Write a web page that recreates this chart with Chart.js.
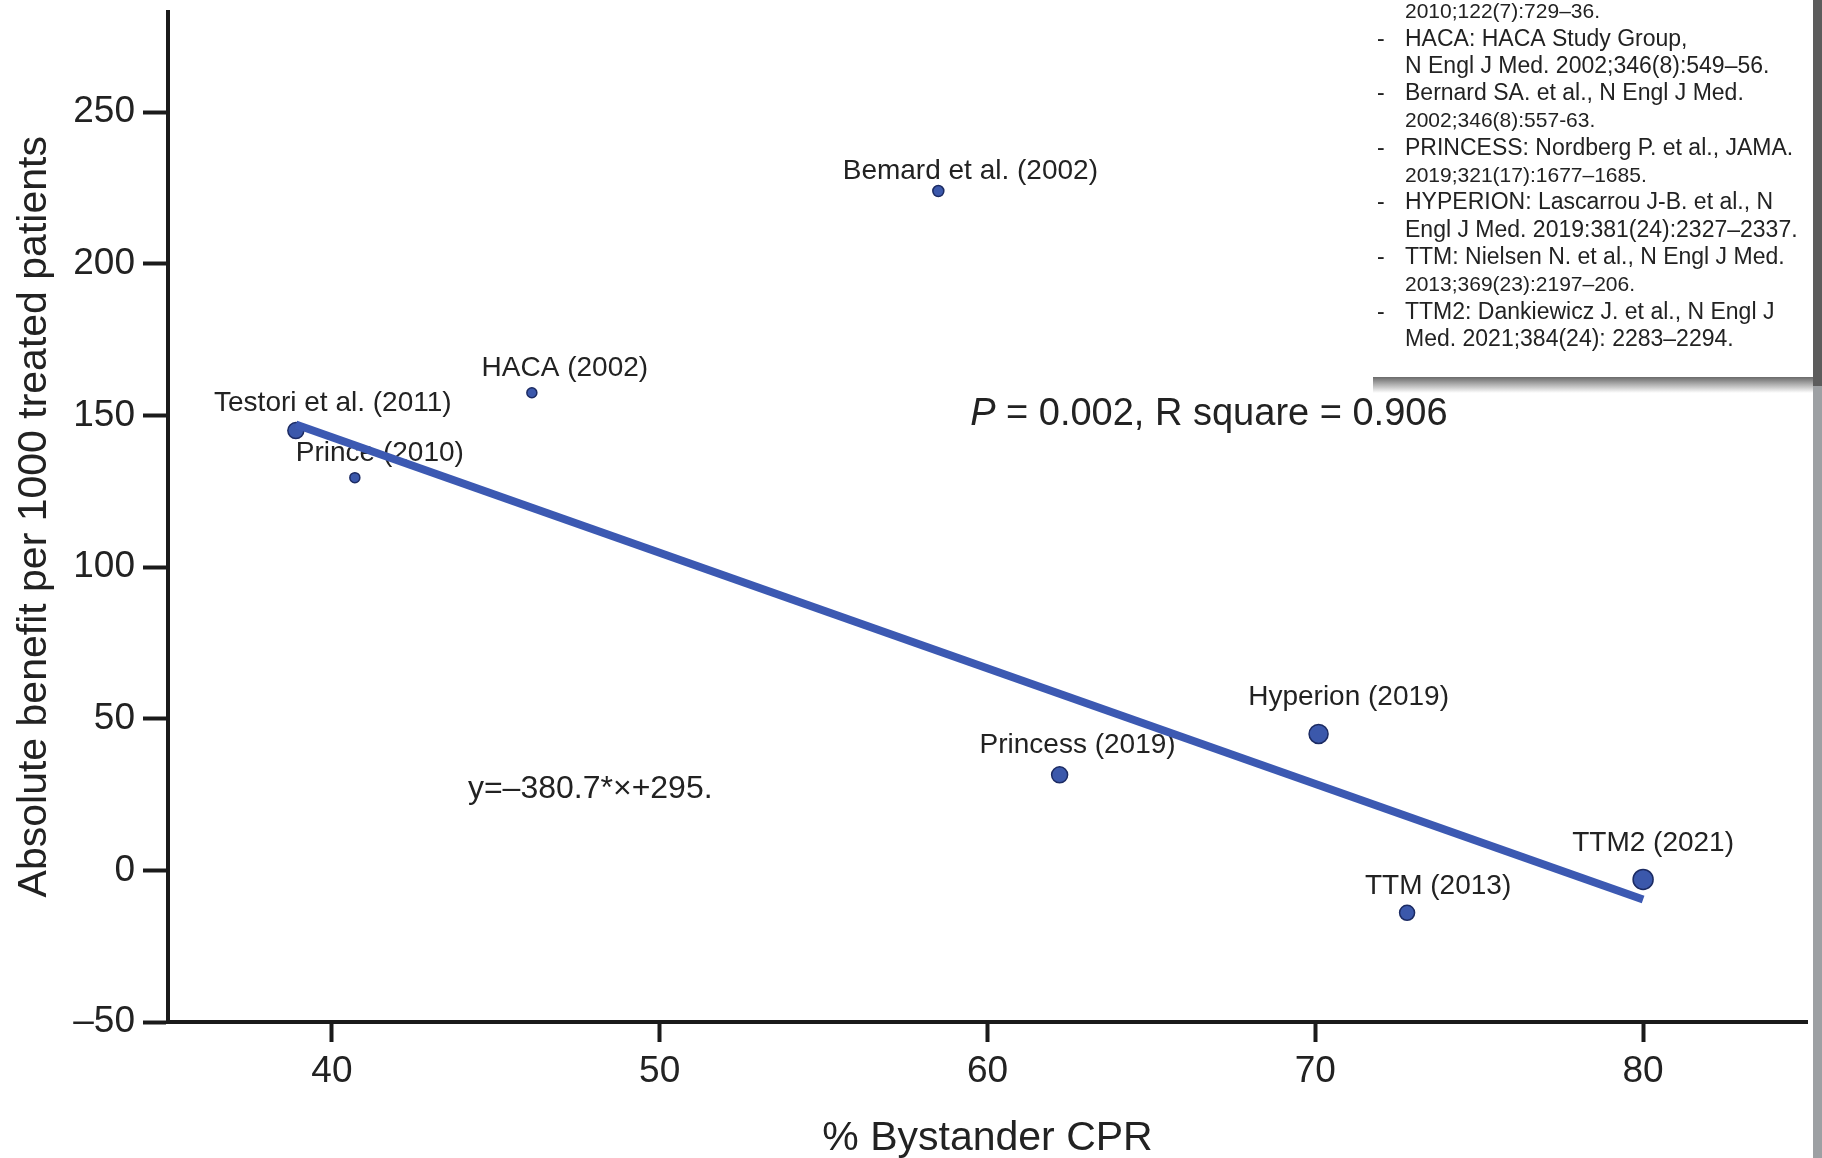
<!DOCTYPE html>
<html>
<head>
<meta charset="utf-8">
<script src="https://cdn.jsdelivr.net/npm/chart.js@4.4.1/dist/chart.umd.min.js"></script>
<style>
  html, body { margin: 0; padding: 0; background: #fff; overflow: hidden; }
  canvas { display: block; }
</style>
</head>
<body>
<canvas id="cprChart" width="1822" height="1158"></canvas>
<script>
// values
var studyNames = ["Testori et al. (2011)", "Prince (2010)", "HACA (2002)", "Bemard et al. (2002)",
  "Princess (2019)", "Hyperion (2019)", "TTM (2013)", "TTM2 (2021)"];
var bystanderCpr = [38.9, 40.7, 46.1, 58.5, 62.2, 70.1, 72.8, 80.0];
var absoluteBenefit = [145, 129.5, 157.5, 224, 31.5, 45, -14, -3];
var studyWeights = [8, 5, 5, 5.5, 8, 9.5, 7.5, 10];
var fitLineX = [38.9, 80];
var fitLineY = [147, -9.6];
var xTicks = [40, 50, 60, 70, 80];
var yTicks = [-50, 0, 50, 100, 150, 200, 250];

var referenceLines = [
  ["", "2010;122(7):729\u201336."],
  ["-", "HACA: HACA Study Group,"],
  ["", "N Engl J Med. 2002;346(8):549\u201356."],
  ["-", "Bernard SA. et al., N Engl J Med."],
  ["", "2002;346(8):557-63."],
  ["-", "PRINCESS: Nordberg P. et al., JAMA."],
  ["", "2019;321(17):1677\u20131685."],
  ["-", "HYPERION: Lascarrou J-B. et al., N"],
  ["", "Engl J Med. 2019:381(24):2327\u20132337."],
  ["-", "TTM: Nielsen N. et al., N Engl J Med."],
  ["", "2013;369(23):2197\u2013206."],
  ["-", "TTM2: Dankiewicz J. et al., N Engl J"],
  ["", "Med. 2021;384(24): 2283\u20132294."]
];

// label placement relative to each dot (px)
var labelOffsets = [[37, -27], [25, -24], [33, -24], [32, -20], [18, -30], [30, -37], [31, -27], [10, -36]];

var FONT = '"Liberation Sans", Arial, Helvetica, sans-serif';
var ink = "#222222";
var axisInk = "#1a1a1a";

var textPlugin = {
  id: "studyText",
  beforeDatasetsDraw: function (chart) {
    var ctx = chart.ctx;
    var xs = chart.scales.x;
    var ys = chart.scales.y;
    ctx.save();
    ctx.fillStyle = ink;
    ctx.textBaseline = "middle";
    ctx.textAlign = "center";
    ctx.font = "28px " + FONT;
    studyNames.forEach(function (name, i) {
      var px = xs.getPixelForValue(bystanderCpr[i]) + labelOffsets[i][0];
      var py = ys.getPixelForValue(absoluteBenefit[i]) + labelOffsets[i][1];
      ctx.fillText(name, px, py);
    });

    ctx.textAlign = "left";
    ctx.font = "32px " + FONT;
    ctx.fillText("y=\u2013380.7*\u00d7+295.", xs.getPixelForValue(44.15), ys.getPixelForValue(26.9));

    var x0 = xs.getPixelForValue(59.47);
    var y0 = ys.getPixelForValue(150.4);
    ctx.font = "italic 38px " + FONT;
    ctx.fillText("P", x0, y0);
    var w = ctx.measureText("P").width;
    ctx.font = "38px " + FONT;
    ctx.fillText(" = 0.002, R square = 0.906", x0 + w, y0);
    ctx.restore();
  },
  afterDraw: function (chart) {
    var ctx = chart.ctx;
    ctx.save();
    // right edge strips
    ctx.fillStyle = "#5c5c5c";
    ctx.fillRect(1813, 0, 9, 386);
    ctx.fillStyle = "#9da0a3";
    ctx.fillRect(1813, 386, 9, 772);

    // reference box with shadow
    var grad = ctx.createLinearGradient(0, 377, 0, 393);
    grad.addColorStop(0, "rgba(80,80,80,0.85)");
    grad.addColorStop(1, "rgba(80,80,80,0)");
    ctx.fillStyle = grad;
    ctx.fillRect(1373, 377, 440, 16);
    ctx.fillStyle = "#ffffff";
    ctx.fillRect(1373, 0, 440, 377);

    ctx.fillStyle = ink;
    ctx.textBaseline = "middle";
    ctx.textAlign = "left";
    referenceLines.forEach(function (line, i) {
      var y = 12 + i * 27.3;
      ctx.font = "23px " + FONT;
      if (line[0]) ctx.fillText(line[0], 1377, y);
      var startsWithDigit = /^[0-9]/.test(line[1]);
      ctx.font = (startsWithDigit ? "21px " : "23px ") + FONT;
      ctx.fillText(line[1], 1405, y);
    });
    ctx.restore();
  }
};

var studyPoints = bystanderCpr.map(function (x, i) {
  return { x: x, y: absoluteBenefit[i] };
});
var fitPoints = fitLineX.map(function (x, i) {
  return { x: x, y: fitLineY[i] };
});

new Chart(document.getElementById("cprChart"), {
  type: "scatter",
  data: {
    datasets: [
      {
        label: "Regression",
        type: "line",
        data: fitPoints,
        borderColor: "#3c59b2",
        borderWidth: 8,
        borderCapStyle: "butt",
        pointRadius: 0,
        fill: false,
        order: 0
      },
      {
        label: "Studies",
        data: studyPoints,
        pointRadius: studyWeights,
        backgroundColor: "#3b58ab",
        borderColor: "#1c2b63",
        borderWidth: 1.5,
        order: 1
      }
    ]
  },
  options: {
    responsive: false,
    animation: false,
    layout: { padding: { top: 8, right: 15, left: 0, bottom: 0 } },
    plugins: {
      legend: { display: false },
      tooltip: { enabled: false }
    },
    scales: {
      x: {
        type: "linear",
        min: 35,
        max: 85,
        afterBuildTicks: function (scale) {
          scale.ticks = xTicks.map(function (v) { return { value: v }; });
        },
        afterFit: function (scale) {
          scale.height = 136;
          scale.paddingLeft = 0;
          scale.paddingRight = 0;
        },
        border: { display: true, color: axisInk, width: 4 },
        grid: { drawOnChartArea: false, drawTicks: true, tickLength: 20, tickWidth: 4, tickColor: axisInk },
        ticks: { color: ink, padding: 8, font: { family: FONT, size: 37 } },
        title: {
          display: true,
          text: "% Bystander CPR",
          color: ink,
          font: { family: FONT, size: 41, lineHeight: 0.92 },
          padding: { top: 0, bottom: 0 }
        }
      },
      y: {
        type: "linear",
        min: -50,
        max: 283.2,
        afterBuildTicks: function (scale) {
          scale.ticks = yTicks.map(function (v) { return { value: v }; });
        },
        afterFit: function (scale) {
          scale.width = 168;
          scale.paddingTop = 0;
          scale.paddingBottom = 0;
        },
        border: { display: true, color: axisInk, width: 4 },
        grid: { drawOnChartArea: false, drawTicks: true, tickLength: 25, tickWidth: 4, tickColor: axisInk },
        ticks: {
          color: ink,
          padding: 8,
          font: { family: FONT, size: 37 },
          callback: function (v) { return v < 0 ? "\u2013" + Math.abs(v) : String(v); }
        },
        title: {
          display: true,
          text: "Absolute benefit per 1000 treated patients",
          color: ink,
          font: { family: FONT, size: 41, lineHeight: 1.2 },
          padding: { top: 10, bottom: 0 }
        }
      }
    }
  },
  plugins: [textPlugin]
});
</script>
</body>
</html>
